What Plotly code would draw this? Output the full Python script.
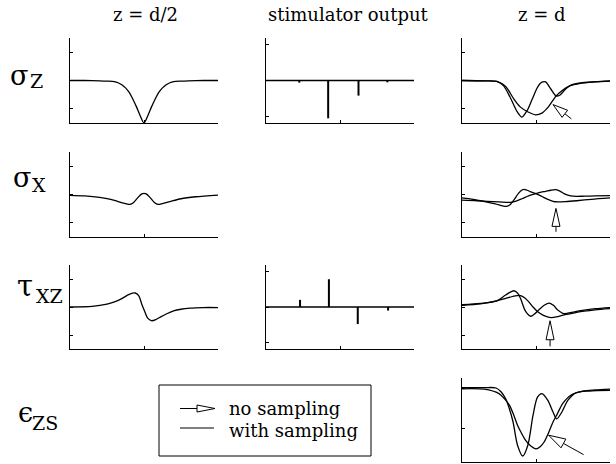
import plotly.graph_objects as go

# ---------------- data ----------------
# column 1: z = d/2
SZ_HALF_X = [0, 0.2, 0.4, 0.5, 0.6, 0.65, 0.7, 0.75, 0.8, 0.85, 0.9, 0.95, 1.0,
             1.05, 1.1, 1.15, 1.2, 1.25, 1.3, 1.35, 1.4, 1.5, 1.6, 1.8, 2.0]
SZ_HALF_Y = [0, 0, -0.01, -0.02, -0.04, -0.08, -0.15, -0.26, -0.42, -0.66, -0.94, -1.25, -1.5,
             -1.25, -0.94, -0.66, -0.42, -0.26, -0.15, -0.08, -0.04, -0.02, -0.01, 0, 0]

SX_HALF_X = [0, 0.2, 0.4, 0.55, 0.65, 0.75, 0.81, 0.86, 0.92, 0.97, 1.0, 1.03, 1.08,
             1.14, 1.19, 1.25, 1.35, 1.5, 1.7, 2.0]
SX_HALF_Y = [-0.03, -0.05, -0.1, -0.17, -0.25, -0.32, -0.35, -0.28, -0.1, 0.02, 0.04, 0.02, -0.1,
             -0.28, -0.35, -0.32, -0.25, -0.15, -0.08, -0.02]

TXZ_HALF_X = [0, 0.3, 0.5, 0.6, 0.7, 0.8, 0.88, 0.93, 0.97, 1.01, 1.05, 1.1, 1.16,
              1.22, 1.3, 1.4, 1.5, 1.62, 1.8, 2.0]
TXZ_HALF_Y = [0, 0.02, 0.1, 0.18, 0.3, 0.45, 0.5, 0.4, 0.1, -0.16, -0.4, -0.49, -0.45,
              -0.36, -0.25, -0.14, -0.08, -0.04, -0.02, -0.02]

# column 2: stimulator output (spikes)
STIM_BASE_X = [0, 2]
STIM_SZ_X = [0.45, 0.84, 1.25, 1.64]
STIM_SZ_Y = [-0.06, -1.05, -0.42, -0.05]
STIM_TXZ_X = [0.46, 0.85, 1.24, 1.65]
STIM_TXZ_Y = [0.2, 0.78, -0.48, -0.1]

# column 3: z = d  (no sampling / with sampling)
SZ_D_WITH_X = [0, 0.3, 0.47, 0.56, 0.65, 0.75, 0.81, 0.88, 0.95, 1.02, 1.08, 1.13, 1.2,
               1.27, 1.32, 1.4, 1.48, 1.6, 1.8, 2.0]
SZ_D_WITH_Y = [0, -0.01, -0.03, -0.18, -0.59, -1.12, -1.29, -1.06, -0.65, -0.24, -0.06, -0.05, -0.3,
               -0.54, -0.52, -0.3, -0.15, -0.08, -0.04, -0.01]
SZ_D_NO_X = [0, 0.3, 0.47, 0.59, 0.7, 0.79, 0.9, 0.99, 1.08, 1.17, 1.27, 1.35, 1.45, 1.6, 1.8, 2.0]
SZ_D_NO_Y = [0, -0.01, -0.03, -0.21, -0.65, -0.94, -1.12, -1.21, -1.15, -0.92, -0.55, -0.36, -0.2,
             -0.1, -0.05, -0.02]

SX_D_NO_X = [0, 0.15, 0.29, 0.45, 0.55, 0.6, 0.65, 0.7, 0.76, 0.81, 0.84, 0.88, 0.94, 1.0,
             1.08, 1.16, 1.23, 1.29, 1.4, 1.55, 1.75, 2.0]
SX_D_NO_Y = [-0.12, -0.17, -0.24, -0.33, -0.4, -0.42, -0.36, -0.2, 0.03, 0.16, 0.18, 0.15, 0.08, 0.03,
             -0.07, -0.17, -0.24, -0.26, -0.25, -0.22, -0.17, -0.12]
SX_D_WITH_X = [0, 0.2, 0.34, 0.5, 0.65, 0.72, 0.81, 0.9, 1.0, 1.07, 1.13, 1.2, 1.27, 1.33,
               1.38, 1.44, 1.5, 1.65, 1.8, 2.0]
SX_D_WITH_Y = [-0.2, -0.22, -0.24, -0.26, -0.28, -0.24, -0.15, -0.05, 0.03, 0.08, 0.11, 0.15, 0.17, 0.11,
               0.03, -0.03, -0.06, -0.06, -0.05, -0.04]

TXZ_D_WITH_X = [0, 0.25, 0.47, 0.59, 0.7, 0.75, 0.79, 0.86, 0.93, 0.98, 1.04, 1.11, 1.18,
                1.24, 1.29, 1.38, 1.5, 1.65, 1.8, 2.0]
TXZ_D_WITH_Y = [0.08, 0.13, 0.22, 0.43, 0.58, 0.5, 0.31, -0.16, -0.33, -0.25, -0.1, 0.06, 0.14,
                0.05, -0.1, -0.24, -0.18, -0.11, -0.06, -0.02]
TXZ_D_NO_X = [0, 0.25, 0.47, 0.58, 0.65, 0.72, 0.79, 0.85, 0.9, 0.96, 1.02, 1.1, 1.2, 1.3,
              1.38, 1.5, 1.65, 1.8, 2.0]
TXZ_D_NO_Y = [0.06, 0.11, 0.22, 0.3, 0.35, 0.4, 0.41, 0.32, 0.19, 0.0, -0.16, -0.3, -0.38, -0.34,
              -0.28, -0.22, -0.15, -0.1, -0.06]

EZS_D_WITH_X = [0, 0.3, 0.46, 0.53, 0.59, 0.64, 0.69, 0.75, 0.82, 0.89, 0.96, 1.02, 1.08,
                1.16, 1.23, 1.28, 1.35, 1.43, 1.54, 1.72, 2.0]
EZS_D_WITH_Y = [0.01, 0.01, 0.0, -0.1, -0.27, -0.52, -0.85, -1.43, -1.7, -1.43, -0.68, -0.23, -0.14,
                -0.31, -0.6, -0.77, -0.6, -0.31, -0.12, -0.075, -0.06]
EZS_D_NO_X = [0, 0.3, 0.5, 0.57, 0.64, 0.7, 0.75, 0.81, 0.86, 0.93, 1.0, 1.06, 1.11, 1.17,
              1.23, 1.29, 1.36, 1.47, 1.63, 1.8, 2.0]
EZS_D_NO_Y = [-0.02, -0.03, -0.14, -0.26, -0.43, -0.68, -0.93, -1.15, -1.31, -1.45, -1.52, -1.46,
              -1.35, -1.12, -0.85, -0.64, -0.39, -0.18, -0.08, -0.05, -0.03]

# arrow tips (data coords of the "no sampling" marker in column 3)
ARROW_TIP_X = [1.23, 1.27, 1.19, 1.17]
ARROW_TIP_Y = [-0.85, -0.49, -0.49, -1.18]

COL_TITLES = ["z = d/2", "stimulator output", "z = d"]
LEGEND_LABELS = ["no sampling", "with sampling"]

# ---------------- layout geometry (pixels) ----------------
W, H = 616, 464
COL_PX = [(70, 218), (266, 414), (462, 610)]
ROW_PX = [(38, 123), (152, 237), (265, 349), (378, 462)]
FONT = "DejaVu Serif"

fig = go.Figure()
panels = {}


def px2paper(px, py):
    return px / W, 1 - py / H


def add_panel(idx, r, c, yrange, ytv):
    x0, x1 = COL_PX[c]
    y0, y1 = ROW_PX[r]
    common = dict(showline=True, linecolor="black", linewidth=1, ticks="inside", ticklen=3,
                  tickwidth=1, tickcolor="black", showticklabels=False, showgrid=False,
                  zeroline=False, fixedrange=True)
    sx = "" if idx == 1 else str(idx)
    fig.layout["xaxis" + sx] = dict(common, domain=[x0 / W, x1 / W], range=[0, 2],
                                    tickvals=[0, 1, 2], anchor="y" + sx)
    fig.layout["yaxis" + sx] = dict(common, domain=[1 - y1 / H, 1 - y0 / H], range=yrange,
                                    tickvals=ytv, anchor="x" + sx)
    panels[(r, c)] = ("x" + sx, "y" + sx, (x0, x1), (y0, y1), yrange)


R15 = [-1.5, 1.5]
RSTIM = [-1.18, 1.18]
add_panel(1, 0, 0, R15, [-1, 0, 1])
add_panel(2, 0, 1, RSTIM, [-1, 0, 1])
add_panel(3, 0, 2, R15, [-1, 0, 1])
add_panel(4, 1, 0, R15, [-1, 0, 1])
add_panel(5, 1, 2, R15, [-1, 0, 1])
add_panel(6, 2, 0, R15, [-1, 0, 1])
add_panel(7, 2, 1, RSTIM, [-1, 0, 1])
add_panel(8, 2, 2, R15, [-1, 0, 1])
add_panel(9, 3, 2, [-1.85, 0.25], [-1, 0])


def curve(r, c, x, y):
    xa, ya = panels[(r, c)][:2]
    fig.add_trace(go.Scatter(x=x, y=y, mode="lines", xaxis=xa, yaxis=ya, showlegend=False,
                             hoverinfo="skip",
                             line=dict(color="black", width=1.3, shape="spline", smoothing=0.8)))


def spikes(r, c, sx, sy):
    xa, ya = panels[(r, c)][:2]
    fig.add_trace(go.Scatter(x=STIM_BASE_X, y=[0, 0], mode="lines", xaxis=xa, yaxis=ya,
                             showlegend=False, hoverinfo="skip", line=dict(color="black", width=1.3)))
    xs, ys = [], []
    for a, b in zip(sx, sy):
        xs += [a, a, None]
        ys += [0, b, None]
    fig.add_trace(go.Scatter(x=xs, y=ys, mode="lines", xaxis=xa, yaxis=ya, showlegend=False,
                             hoverinfo="skip", line=dict(color="black", width=2)))


curve(0, 0, SZ_HALF_X, SZ_HALF_Y)
curve(1, 0, SX_HALF_X, SX_HALF_Y)
curve(2, 0, TXZ_HALF_X, TXZ_HALF_Y)
spikes(0, 1, STIM_SZ_X, STIM_SZ_Y)
spikes(2, 1, STIM_TXZ_X, STIM_TXZ_Y)
curve(0, 2, SZ_D_WITH_X, SZ_D_WITH_Y)
curve(0, 2, SZ_D_NO_X, SZ_D_NO_Y)
curve(1, 2, SX_D_WITH_X, SX_D_WITH_Y)
curve(1, 2, SX_D_NO_X, SX_D_NO_Y)
curve(2, 2, TXZ_D_WITH_X, TXZ_D_WITH_Y)
curve(2, 2, TXZ_D_NO_X, TXZ_D_NO_Y)
curve(3, 2, EZS_D_WITH_X, EZS_D_WITH_Y)
curve(3, 2, EZS_D_NO_X, EZS_D_NO_Y)

shapes = []


def open_arrow(tip_px, tail_vec, head_len, half_w):
    tx, ty = tip_px
    vx, vy = tail_vec
    L = (vx ** 2 + vy ** 2) ** 0.5
    ux, uy = vx / L, vy / L
    nx, ny = -uy, ux
    bx, by = tx + ux * head_len, ty + uy * head_len
    c1 = px2paper(bx + nx * half_w, by + ny * half_w)
    c2 = px2paper(bx - nx * half_w, by - ny * half_w)
    t = px2paper(tx, ty)
    b = px2paper(bx, by)
    e = px2paper(tx + vx, ty + vy)
    shapes.append(dict(type="line", xref="paper", yref="paper", x0=b[0], y0=b[1], x1=e[0], y1=e[1],
                       line=dict(color="black", width=1)))
    shapes.append(dict(type="path", xref="paper", yref="paper",
                       path=f"M {t[0]} {t[1]} L {c1[0]} {c1[1]} L {c2[0]} {c2[1]} Z",
                       fillcolor="white", line=dict(color="black", width=1)))


def data2px(r, c, x, y):
    _, _, (x0, x1), (y0, y1), yr = panels[(r, c)]
    px = x0 + (x - 0) / 2 * (x1 - x0)
    py = y1 - (y - yr[0]) / (yr[1] - yr[0]) * (y1 - y0)
    return px, py


ARROW_STYLE = [((18.4, 14.3), 15, 4.5), ((0, 23.4), 18, 4), ((0, 25.7), 19, 4), ((35, 19.4), 17, 5)]
for i, r in enumerate(range(4)):
    tip = data2px(r, 2, ARROW_TIP_X[i], ARROW_TIP_Y[i])
    vec, hl, hw = ARROW_STYLE[i]
    open_arrow(tip, vec, hl, hw)

# legend box
lb0 = px2paper(159, 385)
lb1 = px2paper(371, 456)
shapes.append(dict(type="rect", xref="paper", yref="paper", x0=lb0[0], y0=lb1[1], x1=lb1[0], y1=lb0[1],
                   line=dict(color="black", width=1), fillcolor="rgba(0,0,0,0)"))
# legend symbol 1: line + open triangle
a0 = px2paper(180, 408.5)
a1 = px2paper(197, 408.5)
shapes.append(dict(type="line", xref="paper", yref="paper", x0=a0[0], y0=a0[1], x1=a1[0], y1=a1[1],
                   line=dict(color="black", width=1)))
p1 = px2paper(197, 405)
p2 = px2paper(197, 412)
p3 = px2paper(215, 408.5)
shapes.append(dict(type="path", xref="paper", yref="paper",
                   path=f"M {p1[0]} {p1[1]} L {p2[0]} {p2[1]} L {p3[0]} {p3[1]} Z",
                   fillcolor="white", line=dict(color="black", width=1)))
b0 = px2paper(180, 428)
b1 = px2paper(214, 428)
shapes.append(dict(type="line", xref="paper", yref="paper", x0=b0[0], y0=b0[1], x1=b1[0], y1=b1[1],
                   line=dict(color="black", width=1)))

annotations = []


def text(s, px, py, size, xanchor="center", family=FONT):
    x, y = px2paper(px, py)
    annotations.append(dict(text=s, x=x, y=y, xref="paper", yref="paper", showarrow=False,
                            xanchor=xanchor, yanchor="middle",
                            font=dict(family=family, size=size, color="black")))


# column titles
for t, cx in zip(COL_TITLES, [145, 348, 542]):
    text(t, cx, 14.5, 18)

# legend texts
text(LEGEND_LABELS[0], 227, 408.5, 18, "left")
text(LEGEND_LABELS[1], 227, 430.5, 18, "left")

# row labels: Greek letter + subscript letters
ROW_LABELS = [("σ", "Z", (8, 75.5, 27), (28, 81.4)),
              ("σ", "X", (11, 177.5, 27), (30, 185.4)),
              ("τ", "XZ", (15, 285.5, 29), (34, 296.4)),
              ("ϵ", "ZS", (16, 412.5, 27), (30, 423.4))]
for g, s, gp, sp in ROW_LABELS:
    text(g, gp[0], gp[1], gp[2], "left")
    text(s, sp[0], sp[1], 19, "left")

fig.update_layout(width=W, height=H, margin=dict(l=0, r=0, t=0, b=0),
                  paper_bgcolor="white", plot_bgcolor="white",
                  font=dict(family=FONT),
                  shapes=shapes, annotations=annotations, showlegend=False)

fig.write_html("out.html")
